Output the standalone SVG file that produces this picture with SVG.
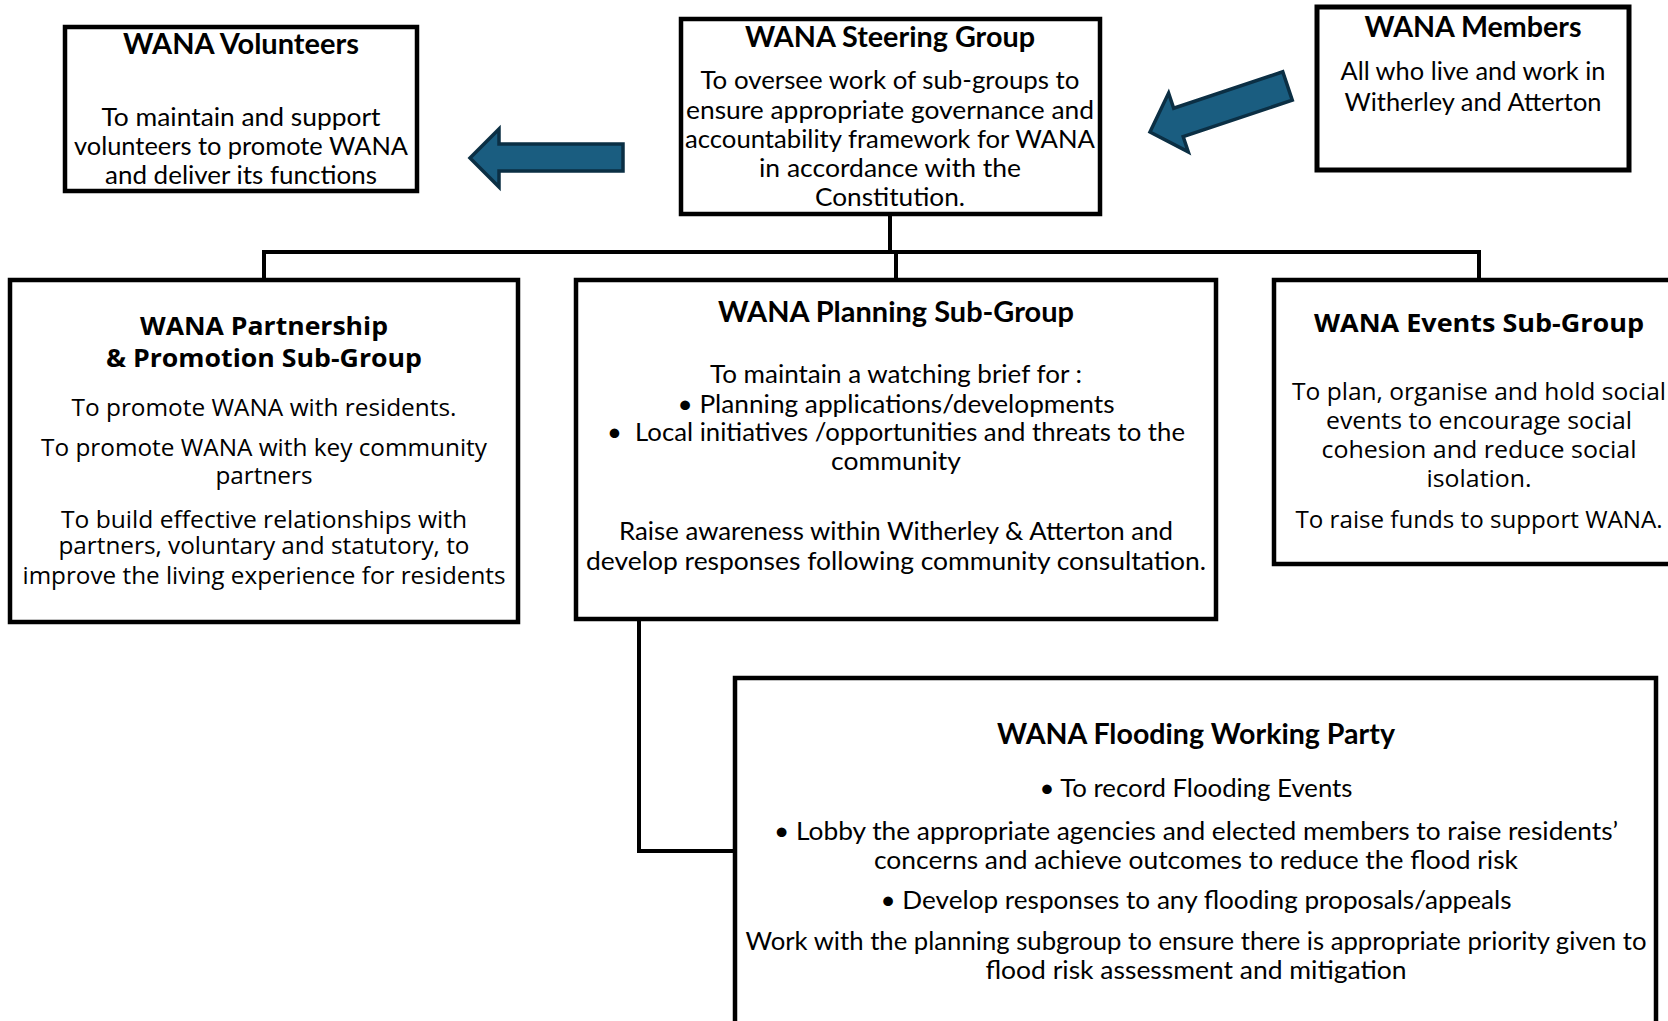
<svg xmlns="http://www.w3.org/2000/svg" width="1668" height="1021" viewBox="0 0 1668 1021">
  <style>
    .box { fill: #ffffff; stroke: #000000; stroke-width: 4.5; }
    .link { fill: none; stroke: #000000; stroke-width: 4; }
    .arrow { fill: #1a5d80; stroke: #0b2f44; stroke-width: 3.5; stroke-linejoin: miter; }
    text { text-anchor: middle; fill: #000000; }
    .t { font-family: Lato, "Liberation Sans", sans-serif; font-size: 25px; }
    .h { font-family: Lato, "Liberation Sans", sans-serif; font-size: 28px; font-weight: bold; }
    .tw { font-family: "Open Sans", "Liberation Sans", sans-serif; font-size: 23px; }
    .hw { font-family: "Open Sans", "Liberation Sans", sans-serif; font-size: 25px; font-weight: bold; }
  </style>
  <rect width="1668" height="1021" fill="#ffffff"/>

  <!-- connectors -->
  <g id="connectors">
    <path class="link" d="M890,214 V252"/>
    <path class="link" d="M264,280 V252 H1479 V280"/>
    <path class="link" d="M896,252 V280"/>
    <path class="link" d="M639,619 V851 H735"/>
    <path class="arrow" d="M470,158 L499,129 L499,144 L623,144 L623,171 L499,171 L499,187 Z"/>
    <path class="arrow" transform="translate(1150,132) rotate(-18.5)" d="M0,0 L30,-31 L30,-15 L145,-15 L145,15 L30,15 L30,31 Z"/>
  </g>

  <!-- volunteers -->
  <g id="volunteers">
    <rect class="box" x="65" y="27" width="352" height="164"/>
    <text class="h" x="241" y="54" textLength="236" lengthAdjust="spacingAndGlyphs">WANA Volunteers</text>
    <text class="t" x="241" y="126" textLength="279" lengthAdjust="spacingAndGlyphs">To maintain and support</text>
    <text class="t" x="241" y="155" textLength="334" lengthAdjust="spacingAndGlyphs">volunteers to promote WANA</text>
    <text class="t" x="241" y="184" textLength="272" lengthAdjust="spacingAndGlyphs">and deliver its functions</text>
  </g>

  <!-- steering group -->
  <g id="steering">
    <rect class="box" x="681" y="19" width="419" height="195"/>
    <text class="h" x="890" y="47" textLength="290" lengthAdjust="spacingAndGlyphs">WANA Steering Group</text>
    <text class="t" x="890" y="89" textLength="379" lengthAdjust="spacingAndGlyphs">To oversee work of sub-groups to</text>
    <text class="t" x="890" y="119" textLength="408" lengthAdjust="spacingAndGlyphs">ensure appropriate governance and</text>
    <text class="t" x="890" y="148" textLength="410" lengthAdjust="spacingAndGlyphs">accountability framework for WANA</text>
    <text class="t" x="890" y="177" textLength="262" lengthAdjust="spacingAndGlyphs">in accordance with the</text>
    <text class="t" x="890" y="206" textLength="150" lengthAdjust="spacingAndGlyphs">Constitution.</text>
  </g>

  <!-- members -->
  <g id="members">
    <rect class="box" x="1317" y="7" width="312" height="163" style="stroke-width:5"/>
    <text class="h" x="1473" y="37" textLength="217" lengthAdjust="spacingAndGlyphs">WANA Members</text>
    <text class="t" x="1473" y="80" textLength="265" lengthAdjust="spacingAndGlyphs">All who live and work in</text>
    <text class="t" x="1473" y="111" textLength="257" lengthAdjust="spacingAndGlyphs">Witherley and Atterton</text>
  </g>

  <!-- partnership and promotion -->
  <g id="partnership">
    <rect class="box" x="10" y="280" width="508" height="342"/>
    <text class="hw" x="264" y="335" textLength="248" lengthAdjust="spacingAndGlyphs">WANA Partnership</text>
    <text class="hw" x="264" y="367" textLength="316" lengthAdjust="spacingAndGlyphs">&amp; Promotion Sub-Group</text>
    <text class="tw" x="264" y="416" textLength="385" lengthAdjust="spacingAndGlyphs">To promote WANA with residents.</text>
    <text class="tw" x="264" y="456" textLength="446" lengthAdjust="spacingAndGlyphs">To promote WANA with key community</text>
    <text class="tw" x="264" y="484" textLength="97" lengthAdjust="spacingAndGlyphs">partners</text>
    <text class="tw" x="264" y="528" textLength="406" lengthAdjust="spacingAndGlyphs">To build effective relationships with</text>
    <text class="tw" x="264" y="554" textLength="411" lengthAdjust="spacingAndGlyphs">partners, voluntary and statutory, to</text>
    <text class="tw" x="264" y="584" textLength="483" lengthAdjust="spacingAndGlyphs">improve the living experience for residents</text>
  </g>

  <!-- planning -->
  <g id="planning">
    <rect class="box" x="576" y="280" width="640" height="339"/>
    <text class="h" x="896" y="322" textLength="356" lengthAdjust="spacingAndGlyphs">WANA Planning Sub-Group</text>
    <text class="t" x="896" y="383" textLength="372" lengthAdjust="spacingAndGlyphs">To maintain a watching brief for :</text>
    <text class="t" x="896" y="413" textLength="437" lengthAdjust="spacingAndGlyphs">• Planning applications/developments</text>
    <text class="t" x="896" y="441" textLength="578" lengthAdjust="spacingAndGlyphs" xml:space="preserve">•  Local initiatives /opportunities and threats to the</text>
    <text class="t" x="896" y="470" textLength="130" lengthAdjust="spacingAndGlyphs">community</text>
    <text class="t" x="896" y="540" textLength="554" lengthAdjust="spacingAndGlyphs">Raise awareness within Witherley &amp; Atterton and</text>
    <text class="t" x="896" y="570" textLength="620" lengthAdjust="spacingAndGlyphs">develop responses following community consultation.</text>
  </g>

  <!-- events -->
  <g id="events">
    <rect class="box" x="1274" y="280" width="420" height="284"/>
    <text class="hw" x="1479" y="332" textLength="330" lengthAdjust="spacingAndGlyphs">WANA Events Sub-Group</text>
    <text class="tw" x="1479" y="400" textLength="374" lengthAdjust="spacingAndGlyphs">To plan, organise and hold social</text>
    <text class="tw" x="1479" y="429" textLength="306" lengthAdjust="spacingAndGlyphs">events to encourage social</text>
    <text class="tw" x="1479" y="458" textLength="315" lengthAdjust="spacingAndGlyphs">cohesion and reduce social</text>
    <text class="tw" x="1479" y="487" textLength="105" lengthAdjust="spacingAndGlyphs">isolation.</text>
    <text class="tw" x="1479" y="528" textLength="367" lengthAdjust="spacingAndGlyphs">To raise funds to support WANA.</text>
  </g>

  <!-- flooding working party -->
  <g id="flooding">
    <rect class="box" x="735" y="678" width="921" height="360"/>
    <text class="h" x="1196" y="744" textLength="398" lengthAdjust="spacingAndGlyphs">WANA Flooding Working Party</text>
    <text class="t" x="1196" y="797" textLength="313" lengthAdjust="spacingAndGlyphs">• To record Flooding Events</text>
    <text class="t" x="1196" y="840" textLength="844" lengthAdjust="spacingAndGlyphs">• Lobby the appropriate agencies and elected members to raise residents’</text>
    <text class="t" x="1196" y="869" textLength="644" lengthAdjust="spacingAndGlyphs">concerns and achieve outcomes to reduce the flood risk</text>
    <text class="t" x="1196" y="909" textLength="631" lengthAdjust="spacingAndGlyphs">• Develop responses to any flooding proposals/appeals</text>
    <text class="t" x="1196" y="950" textLength="901" lengthAdjust="spacingAndGlyphs">Work with the planning subgroup to ensure there is appropriate priority given to</text>
    <text class="t" x="1196" y="979" textLength="421" lengthAdjust="spacingAndGlyphs">flood risk assessment and mitigation</text>
  </g>
</svg>
